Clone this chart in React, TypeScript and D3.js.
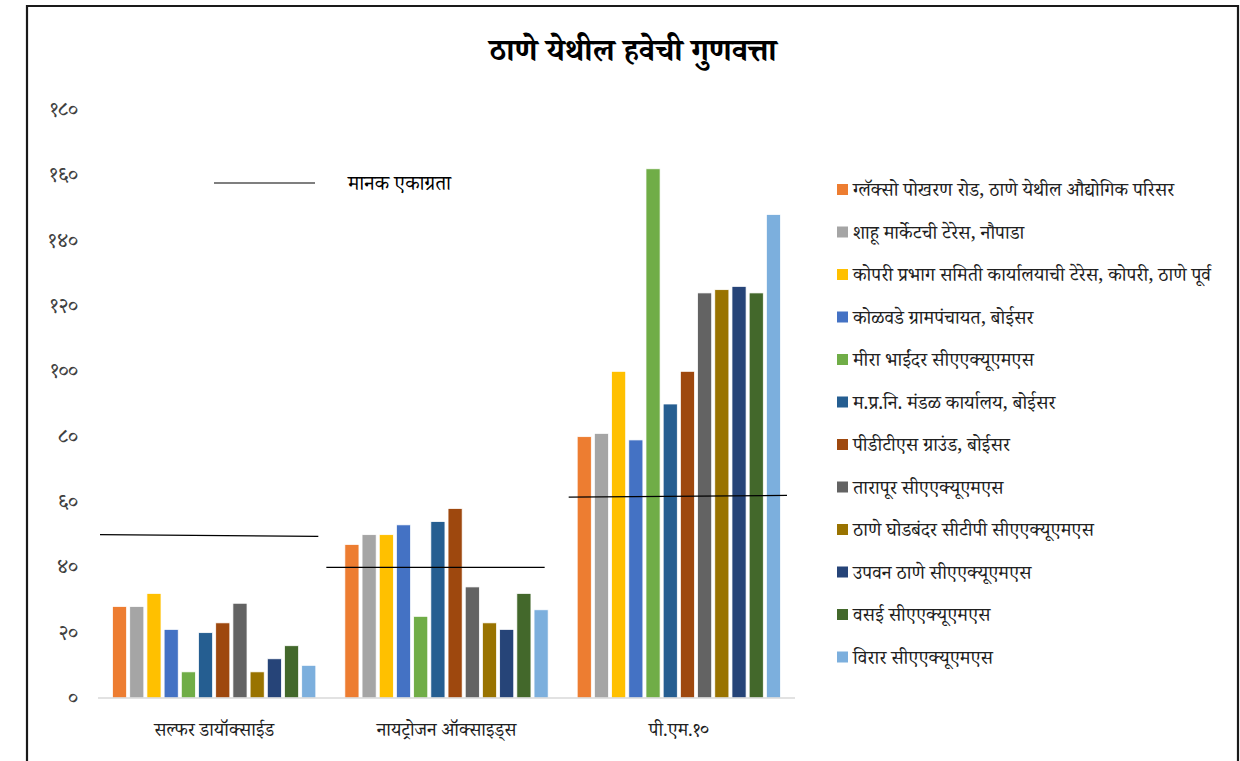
import React from "react";
import * as d3 from "d3";

const categories = ["सल्फर डायॉक्साईड", "नायट्रोजन ऑक्साइड्स", "पी.एम.१०"];

const stations = [
  "ग्लॅक्सो पोखरण रोड, ठाणे येथील औद्योगिक परिसर",
  "शाहू मार्केटची टेरेस, नौपाडा",
  "कोपरी प्रभाग समिती कार्यालयाची टेरेस, कोपरी, ठाणे पूर्व",
  "कोळवडे ग्रामपंचायत, बोईसर",
  "मीरा भाईंदर सीएएक्यूएमएस",
  "म.प्र.नि. मंडळ कार्यालय, बोईसर",
  "पीडीटीएस ग्राउंड, बोईसर",
  "तारापूर सीएएक्यूएमएस",
  "ठाणे घोडबंदर सीटीपी सीएएक्यूएमएस",
  "उपवन ठाणे सीएएक्यूएमएस",
  "वसई सीएएक्यूएमएस",
  "विरार सीएएक्यूएमएस",
];

const colors = [
  "#ED7D31", "#A5A5A5", "#FFC000", "#4472C4", "#70AD47", "#255E91",
  "#9E480E", "#636363", "#997300", "#264478", "#43682B", "#7CAFDD",
];

// values per station, per category [SO2, NOx, PM10]
const so2Values = [28, 28, 32, 21, 8, 20, 23, 29, 8, 12, 16, 10];
const noxValues = [47, 50, 50, 53, 25, 54, 58, 34, 23, 21, 32, 27];
const pm10Values = [80, 81, 100, 79, 162, 90, 100, 124, 125, 126, 124, 148];

// standard concentration lines [start, end] per category
const standardStart = [50, 40, 61.5];
const standardEnd = [49.5, 40, 62];

const yTicks = [0, 20, 40, 60, 80, 100, 120, 140, 160, 180];
const standardLabel = "मानक एकाग्रता";
const title = "ठाणे येथील हवेची गुणवत्ता";

const devDigits = "०१२३४५६७८९";
const toDev = (n: number) => String(n).replace(/[0-9]/g, (d) => devDigits[+d]);

const FONT = "'Noto Serif Devanagari', 'Noto Sans Devanagari', 'Lohit Devanagari', 'Liberation Serif', serif";

export default function App() {
  const W = 1240, H = 761;
  const left = 98, right = 795, top = 110, bottom = 698;
  const values = [so2Values, noxValues, pm10Values];
  const stdShift = [0, -6, 4];

  const x0 = d3.scaleBand<string>().domain(categories).range([left, right]).padding(0);
  const bw = x0.bandwidth();
  const off = bw * 0.0625;
  const x1 = d3.scaleBand<string>().domain(stations).range([off, bw - off]).paddingInner(0.18).paddingOuter(0);
  const y = d3.scaleLinear().domain([0, 180]).range([bottom, top]);

  return (
    <svg width={W} height={H} style={{ position: "absolute", left: 0, top: 0, background: "#fff" }}>
      <rect x={0} y={0} width={W} height={H} fill="#fff" />
      <path d={`M27,${H + 2} V6 H1238 V${H + 2}`} fill="none" stroke="#1a1a1a" strokeWidth={2.2} />
      <text x={633} y={61} textAnchor="middle" fontFamily={FONT} fontSize={31} fontWeight="bold" fill="#000">
        {title}
      </text>
      {yTicks.map((t) => (
        <text key={t} x={78} y={y(t) + 6} textAnchor="end" fontFamily={FONT} fontSize={21} fill="#404040">
          {toDev(t)}
        </text>
      ))}
      {categories.map((c, ci) => (
        <g key={c} transform={`translate(${x0(c)},0)`}>
          {stations.map((s, si) => (
            <rect
              key={s}
              x={x1(s)}
              y={y(values[ci][si])}
              width={x1.bandwidth()}
              height={bottom - y(values[ci][si])}
              fill={colors[si]}
              stroke="#fff"
              strokeWidth={0.75}
            />
          ))}
        </g>
      ))}
      <line x1={left} x2={right} y1={bottom} y2={bottom} stroke="#d9d9d9" strokeWidth={1.5} />
      {categories.map((c, ci) => {
        const gx = x0(c)! + stdShift[ci];
        return (
          <line
            key={"std" + c}
            x1={gx + 2}
            x2={gx + bw - 12}
            y1={y(standardStart[ci])}
            y2={y(standardEnd[ci])}
            stroke="#000"
            strokeWidth={1.2}
          />
        );
      })}
      {categories.map((c) => (
        <text key={"cl" + c} x={x0(c)! + bw / 2} y={736} textAnchor="middle" fontFamily={FONT} fontSize={18.7} fill="#202020">
          {c}
        </text>
      ))}
      <line x1={214} x2={315} y1={183} y2={183} stroke="#000" strokeWidth={1.2} />
      <text x={348} y={190} fontFamily={FONT} fontSize={20.3} fill="#000">
        {standardLabel}
      </text>
      {stations.map((s, i) => {
        const ly = 190 + i * 42.5;
        return (
          <g key={"lg" + s}>
            <rect x={837} y={ly - 6} width={11} height={11} fill={colors[i]} />
            <text x={853} y={ly + 6} fontFamily={FONT} fontSize={19.1} fill="#202020">
              {s}
            </text>
          </g>
        );
      })}
    </svg>
  );
}
